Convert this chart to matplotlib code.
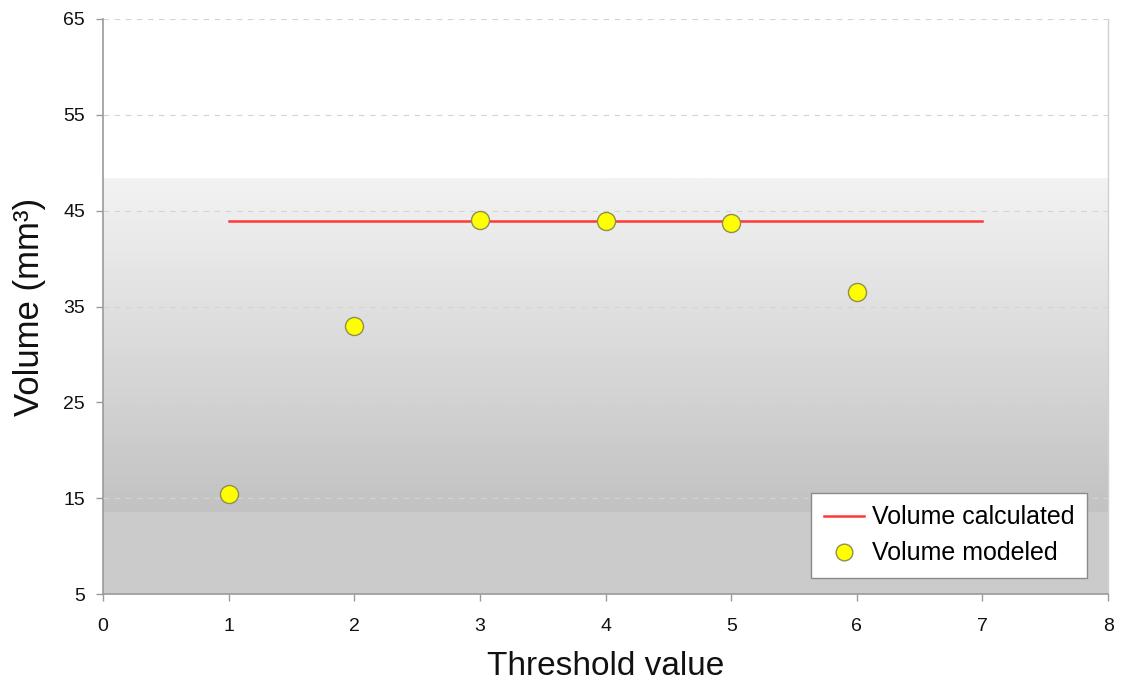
import numpy as np
import matplotlib
matplotlib.use("Agg")
import matplotlib.pyplot as plt
from matplotlib.colors import LinearSegmentedColormap
from matplotlib.lines import Line2D

plt.rcParams["font.family"] = ["Liberation Sans", "DejaVu Sans"]

# Data
thresholds = [1, 2, 3, 4, 5, 6]
volume_modeled = [15.4, 33.0, 44.0, 43.9, 43.7, 36.5]
calc_x = [1, 7]
volume_calculated = [43.9, 43.9]

x_ticks = [0, 1, 2, 3, 4, 5, 6, 7, 8]
y_ticks = [5, 15, 25, 35, 45, 55, 65]

fig = plt.figure(figsize=(11.25, 6.85), dpi=100)
ax = fig.add_axes([0.0916, 0.1328, 0.8934, 0.8395])
ax.set_facecolor("white")

# Shaded background panel: vertical gradient band with a flat grey base
cmap = LinearSegmentedColormap.from_list("bg", ["#f3f3f3", "#c2c2c2"])
grad = np.linspace(0, 1, 256).reshape(-1, 1)
ax.imshow(grad, cmap=cmap, aspect="auto", extent=[0, 1, 0.1426, 0.7217],
          transform=ax.transAxes, origin="upper", zorder=0, interpolation="bilinear")
ax.add_patch(plt.Rectangle((0, 0), 1, 0.1426, transform=ax.transAxes,
                           facecolor="#cbcbcb", edgecolor="none", zorder=0))

ax.set_xlim(0, 8)
ax.set_ylim(5, 65)
ax.set_xticks(x_ticks)
ax.set_yticks(y_ticks)

ax.yaxis.grid(True, linestyle=(0, (5, 5)), color="#d4d4d4", linewidth=0.8, zorder=1)
ax.set_axisbelow(False)

ax.plot(calc_x, volume_calculated, color="#ff3838", linewidth=1.8, zorder=3)
ax.plot(thresholds, volume_modeled, linestyle="none", marker="o", markersize=13,
        markerfacecolor="#ffff00", markeredgecolor="#8f8f50", markeredgewidth=1.0, zorder=4)

for side in ["left", "bottom"]:
    ax.spines[side].set_color("#9a9a9a")
    ax.spines[side].set_linewidth(1.2)
ax.spines["right"].set_color("#d0d0d0")
ax.spines["right"].set_linewidth(1.0)
ax.spines["top"].set_visible(False)

ax.tick_params(axis="both", direction="out", length=5, width=1.0, color="#9a9a9a",
               labelsize=14, labelcolor="#111111")
ax.tick_params(axis="x", pad=12)
ax.tick_params(axis="y", pad=8)

ax.set_xlabel("Threshold value", fontsize=24, color="#111111", labelpad=12)
ax.set_ylabel("Volume (mm³)", fontsize=25, color="#111111", labelpad=12)

handles = [
    Line2D([0], [0], color="#ff3838", linewidth=1.8),
    Line2D([0], [0], linestyle="none", marker="o", markersize=12,
           markerfacecolor="#ffff00", markeredgecolor="#8f8f50"),
]
leg = ax.legend(handles, ["Volume calculated", "Volume modeled"], loc="lower left",
                bbox_to_anchor=(0.7045, 0.028), borderaxespad=0, fontsize=18,
                frameon=True, fancybox=False, framealpha=1.0, edgecolor="#8a8a8a",
                handlelength=1.6, borderpad=0.5, labelspacing=0.48, handletextpad=0.34)
leg.get_frame().set_linewidth(1.0)
leg.set_zorder(5)

fig.savefig("out.png", dpi=100, facecolor="white")
